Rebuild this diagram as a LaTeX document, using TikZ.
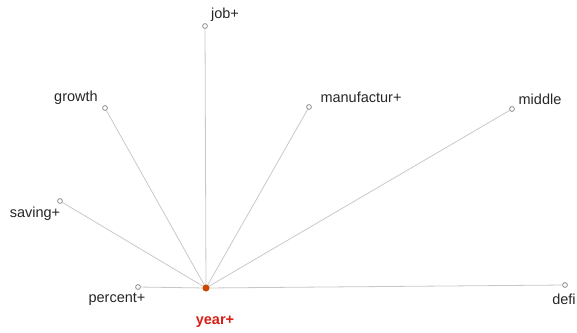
\documentclass[tikz,border=0pt]{standalone}
\usepackage{fontspec}
\setmainfont{Liberation Sans}
\definecolor{arista}{RGB}{200,200,200}
\definecolor{rojoaño}{RGB}{215,30,20}
\tikzset{
  punto/.style={circle, draw=gray, fill=white, line width=0.7pt, inner sep=0pt, minimum size=4.8pt},
  centro/.style={circle, fill=orange!70!red!80!black, inner sep=0pt, minimum size=7pt},
  palabra/.style={font=\fontsize{14.5}{14.5}\selectfont, text=black!85, inner sep=0pt},
  arista/.style={draw=arista, line width=0.8pt}
}
\begin{document}
\begin{tikzpicture}[x=1pt, y=-1pt]
            \useasboundingbox (0,0) rectangle (577,332);

            % Palabras alrededor del centro
            \node[punto] (job) at (205, 26) {};
            \node[punto] (growth) at (105, 108) {};
            \node[punto] (manuf) at (309, 107) {};
            \node[punto] (middle) at (512, 109) {};
            \node[punto] (saving) at (60, 201) {};
            \node[punto] (percent) at (138, 287) {};
            \node[punto] (defi) at (565, 285) {};

            % Aristas desde year+
            \coordinate (y0) at (206, 288);
            \draw[arista] (y0) -- (job);
            \draw[arista] (y0) -- (growth);
            \draw[arista] (y0) -- (manuf);
            \draw[arista] (y0) -- (middle);
            \draw[arista] (y0) -- (saving);
            \draw[arista] (y0) -- (percent);
            \draw[arista] (y0) -- (defi);

            % Nodo central year+
            \node[centro] (year) at (y0) {};

            % Etiquetas de las palabras
            \node[palabra] (tjob) at (225, 15) {job+};
            \node[palabra] (tgrowth) at (76, 98) {growth};
            \node[palabra] (tmanuf) at (361, 97) {manufactur+};
            \node[palabra] (tmiddle) at (540, 99) {middle};
            \node[palabra] (tsaving) at (35, 214) {saving+};
            \node[palabra] (tpercent) at (117, 299) {percent+};
            \node[palabra] (tdefi) at (564, 299) {defi};
            \node[palabra, text=rojoaño, font=\fontsize{14.5}{14.5}\selectfont\bfseries] (tyear) at (215, 322) {year+};

        \end{tikzpicture}
\end{document}
